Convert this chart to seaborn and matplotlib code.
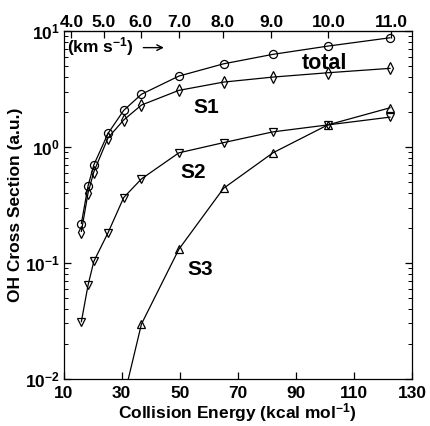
import numpy as np
import pandas as pd
import matplotlib
matplotlib.use("Agg")
import matplotlib.pyplot as plt
import seaborn as sns

# ==========================================
# Data
# ==========================================
energy = [16.1, 18.4, 20.4, 25.3, 30.7, 36.8, 49.7, 65.1, 82.1, 101.0, 122.5]
total = [0.218, 0.46, 0.70, 1.31, 2.07, 2.85, 4.09, 5.22, 6.3, 7.42, 8.76]
s1 = [0.186, 0.40, 0.61, 1.20, 1.71, 2.30, 3.08, 3.63, 4.01, 4.37, 4.77]
s2 = [0.031, 0.064, 0.103, 0.182, 0.366, 0.53, 0.89, 1.09, 1.35, 1.55, 1.81]
energy_s3 = [30.7, 36.8, 49.7, 65.1, 82.1, 101.0, 122.5]
s3 = [0.0068, 0.0296, 0.131, 0.44, 0.89, 1.55, 2.18]

# top axis: relative velocity (km/s) and where its ticks sit on the energy axis
vel_labels = ["4.0", "5.0", "6.0", "7.0", "8.0", "9.0", "10.0", "11.0"]
vel_energy = [12.65, 23.8, 36.5, 49.9, 64.8, 81.5, 101.2, 122.8]

# ==========================================
# Style
# ==========================================
sns.set_style("ticks")
plt.rcParams["font.family"] = ["Liberation Sans", "DejaVu Sans"]
plt.rcParams["font.weight"] = "bold"
plt.rcParams["text.color"] = "black"
plt.rcParams["axes.labelcolor"] = "black"
plt.rcParams["xtick.color"] = "black"
plt.rcParams["ytick.color"] = "black"
plt.rcParams["axes.edgecolor"] = "black"
plt.rcParams["mathtext.fontset"] = "custom"
plt.rcParams["mathtext.bf"] = "Liberation Sans:bold"
plt.rcParams["mathtext.rm"] = "Liberation Sans:bold"
plt.rcParams["mathtext.default"] = "bf"

fig = plt.figure(figsize=(4.3, 4.26), dpi=100)
ax = fig.add_axes([0.148, 0.111, 0.810, 0.816])

series = [
    (energy, total, "o"),
    (energy, s1, "d"),
    (energy, s2, "v"),
    (energy_s3, s3, "^"),
]
for x, y, m in series:
    df = pd.DataFrame({"E": x, "sigma": y})
    sns.lineplot(data=df, x="E", y="sigma", ax=ax, color="black", lw=0.9,
                 marker=m, markersize=5.8, markerfacecolor="none",
                 markeredgecolor="black", markeredgewidth=0.9, sort=False)

ax.set_yscale("log")
ax.set_xlim(10, 130)
ax.set_ylim(1e-2, 1e1)
ax.set_xticks([10, 30, 50, 70, 90, 110, 130])
ax.set_yticks([1e-2, 1e-1, 1e0, 1e1])
ax.set_yticklabels([r"$10^{-2}$", r"$10^{-1}$", r"$10^{0}$", r"$10^{1}$"])
ax.tick_params(which="both", direction="in", right=True, top=False, labelsize=12.5)
ax.tick_params(which="major", length=5, width=0.9, pad=3)
ax.tick_params(which="minor", length=3, width=0.7)
ax.tick_params(axis="x", pad=5)
for sp in ax.spines.values():
    sp.set_linewidth(0.9)

ax.set_xlabel("Collision Energy (kcal mol$^{-1}$)", fontsize=12.5, fontweight="bold", labelpad=0)
ax.set_ylabel("OH Cross Section (a.u.)", fontsize=12.5, fontweight="bold", labelpad=1)

top = ax.secondary_xaxis("top")
top.set_xticks(vel_energy)
top.set_xticklabels(vel_labels)
top.tick_params(direction="in", length=5, width=0.9, labelsize=12.5, pad=1)

# curve labels
ax.text(100, 5.3, "total", fontsize=15.5, fontweight="bold", ha="center", va="center")
ax.text(59, 2.18, "S1", fontsize=15, fontweight="bold", ha="center", va="center")
ax.text(54.5, 0.60, "S2", fontsize=15, fontweight="bold", ha="center", va="center")
ax.text(57, 0.088, "S3", fontsize=15, fontweight="bold", ha="center", va="center")
ax.text(11.2, 7.4, "(km s$^{-1}$)", fontsize=12.5, fontweight="bold", ha="left", va="center")
ax.annotate("", xy=(45.5, 7.2), xytext=(36.5, 7.2),
            arrowprops=dict(arrowstyle="->", lw=1.0, color="black"))

fig.savefig("out.png", dpi=100)
